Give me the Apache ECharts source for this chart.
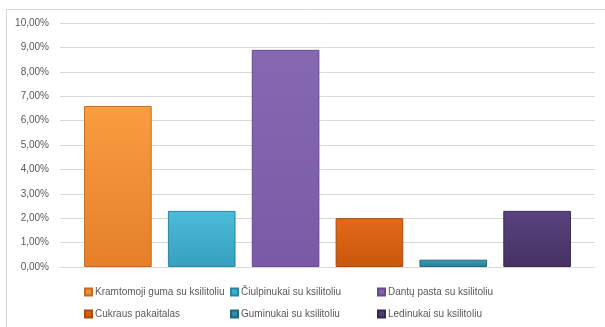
<!DOCTYPE html>
<html>
<head>
<meta charset="utf-8">
<script src="https://cdn.jsdelivr.net/npm/echarts@6/dist/echarts.min.js"></script>
<style>
  html, body { margin: 0; padding: 0; background: #fff; }
  #chart { width: 605px; height: 327px; }
</style>
</head>
<body>
<div id="chart"></div>
<script>
// Product names (one bar each)
const productNames = [
  'Kramtomoji guma su ksilitoliu',
  'Čiulpinukai su ksilitoliu',
  'Dantų pasta su ksilitoliu',
  'Cukraus pakaitalas',
  'Guminukai su ksilitoliu',
  'Ledinukai su ksilitoliu'
];
// Share of respondents, in percent
const shareValues = [6.6, 2.3, 8.9, 2.0, 0.3, 2.3];
// Y-axis range and step, in percent
const yTicks = { min: 0, max: 10, step: 1 };

// Bar fills: [top, bottom, edge]
const barPalette = [
  ['#FA9C40', '#E57F2A', '#C46A22'],
  ['#4DBBDA', '#35A0BE', '#2B86A0'],
  ['#8668B1', '#7A5AA6', '#664A8E'],
  ['#E3691A', '#C9580C', '#A9490A'],
  ['#3F9AB2', '#2A7E94', '#21687B'],
  ['#594280', '#463363', '#372850']
];

const chart = echarts.init(document.getElementById('chart'), null, { renderer: 'canvas' });

const series = productNames.map((name, i) => ({
  name: name,
  type: 'bar',
  data: [shareValues[i]],
  barGap: '24%',
  barCategoryGap: '9%',
  itemStyle: {
    color: new echarts.graphic.LinearGradient(0, 0, 0, 1, [
      { offset: 0, color: barPalette[i][0] },
      { offset: 1, color: barPalette[i][1] }
    ]),
    borderColor: barPalette[i][2],
    borderWidth: 1
  }
}));

const legendColumn = (names, left) => ({
  data: names,
  orient: 'vertical',
  left: left,
  top: 287,
  itemWidth: 7,
  itemHeight: 7,
  itemGap: 12,
  padding: 0,
  icon: 'rect',
  textStyle: { color: '#595959', fontSize: 10, fontFamily: 'Liberation Sans', padding: [0, 0, 0, -2] },
  selectedMode: false
});

chart.setOption({
  animation: false,
  backgroundColor: '#ffffff',
  graphic: [{
    type: 'rect',
    shape: { x: 6.5, y: 9.5, width: 620, height: 330 },
    style: { fill: 'none', stroke: '#d9d9d9', lineWidth: 1 },
    silent: true
  }],
  grid: { left: 60, right: 10, top: 23, bottom: 60 },
  legend: [
    legendColumn([productNames[0], productNames[3]], 84),
    legendColumn([productNames[1], productNames[4]], 230),
    legendColumn([productNames[2], productNames[5]], 377)
  ],
  xAxis: {
    type: 'category',
    data: [''],
    axisLine: { show: true, lineStyle: { color: '#d9d9d9' } },
    axisTick: { show: false },
    axisLabel: { show: false }
  },
  yAxis: {
    type: 'value',
    min: yTicks.min,
    max: yTicks.max,
    interval: yTicks.step,
    axisLine: { show: false },
    axisTick: { show: false },
    axisLabel: {
      color: '#595959',
      fontSize: 10,
      fontFamily: 'Liberation Sans',
      margin: 11,
      formatter: v => v.toFixed(2).replace('.', ',') + '%'
    },
    splitLine: { lineStyle: { color: '#d9d9d9', width: 1 } }
  },
  series: series
});
</script>
</body>
</html>
